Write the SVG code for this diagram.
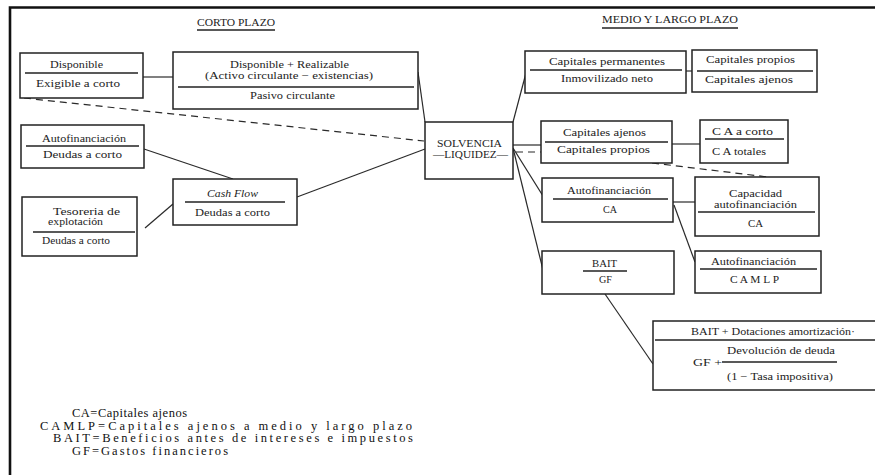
<svg xmlns="http://www.w3.org/2000/svg" width="875" height="475" viewBox="0 0 875 475">
  <style>
    .frame { stroke: #111; stroke-width: 2.6; fill: none; }
    .box { fill: #fff; stroke: #222; stroke-width: 1.5; }
    .div { stroke: #222; stroke-width: 1.3; fill: none; }
    .ln { stroke: #2a2a2a; stroke-width: 1.2; fill: none; }
    .dash { stroke: #2a2a2a; stroke-width: 1.2; fill: none; stroke-dasharray: 7 5; }
    .t { font-family: "Liberation Serif", "Times New Roman", serif; font-size: 10.5px; fill: #1c1c1c; text-anchor: middle; }
    .s { text-anchor: start; }
    .i { font-style: italic; }
    .sm { font-size: 9.5px; }
    .h { font-size: 11px; }
    .lg { font-family: "Liberation Serif", "Times New Roman", serif; font-size: 12.5px; fill: #111; }
  </style>

  <rect width="875" height="475" fill="#fff"/>
  <!-- page frame -->
  <path class="frame" d="M10 475 V7.5 H875"/>

  <!-- section headings -->
  <g id="heading-corto">
    <text class="t h" x="236" y="26" textLength="78" lengthAdjust="spacingAndGlyphs">CORTO PLAZO</text>
    <line class="div" x1="197" y1="30" x2="275" y2="30"/>
  </g>
  <g id="heading-medio">
    <text class="t h" x="670" y="23" textLength="136" lengthAdjust="spacingAndGlyphs">MEDIO Y LARGO PLAZO</text>
    <line class="div" x1="602" y1="28" x2="738" y2="28"/>
  </g>

  <!-- connectors -->
  <g id="connectors">
    <line class="ln" x1="143" y1="77" x2="173" y2="77"/>
    <line class="dash" x1="24" y1="98" x2="424" y2="141"/>
    <line class="ln" x1="144" y1="149" x2="233" y2="179"/>
    <line class="ln" x1="145" y1="228" x2="173" y2="204"/>
    <line class="ln" x1="297" y1="197" x2="425" y2="149"/>
    <line class="ln" x1="418" y1="72" x2="425" y2="122"/>
    <line class="ln" x1="513" y1="122" x2="526" y2="73"/>
    <line class="ln" x1="686" y1="71" x2="692" y2="71"/>
    <line class="ln" x1="513" y1="145" x2="541" y2="145"/>
    <line class="dash" x1="516" y1="152" x2="541" y2="152"/>
    <line class="ln" x1="672" y1="144" x2="700" y2="144"/>
    <line class="dash" x1="652" y1="163" x2="768" y2="177"/>
    <line class="ln" x1="513" y1="148" x2="543" y2="196"/>
    <line class="ln" x1="513" y1="148" x2="544" y2="274"/>
    <line class="ln" x1="673" y1="202" x2="695" y2="202"/>
    <line class="ln" x1="674" y1="205" x2="695" y2="262"/>
    <line class="ln" x1="605" y1="294" x2="653" y2="364"/>
  </g>

  <!-- short-term ratios -->
  <g id="n-disponible">
    <rect class="box" x="20" y="53" width="123" height="45"/>
    <text class="t" x="76.5" y="68" textLength="53" lengthAdjust="spacingAndGlyphs">Disponible</text>
    <line class="div" x1="25" y1="73" x2="138" y2="73"/>
    <text class="t" x="78" y="87" textLength="84" lengthAdjust="spacingAndGlyphs">Exigible a corto</text>
  </g>
  <g id="n-acid-test">
    <rect class="box" x="173" y="52" width="245" height="57"/>
    <text class="t" x="289.5" y="68" textLength="119" lengthAdjust="spacingAndGlyphs">Disponible + Realizable</text>
    <text class="t" x="289" y="79" textLength="168" lengthAdjust="spacingAndGlyphs">(Activo circulante − existencias)</text>
    <line class="div" x1="178" y1="87" x2="414" y2="87"/>
    <text class="t" x="292.5" y="99" textLength="85" lengthAdjust="spacingAndGlyphs">Pasivo circulante</text>
  </g>
  <g id="n-autofin-corto">
    <rect class="box" x="21" y="125" width="123" height="43"/>
    <text class="t" x="84" y="142" textLength="84" lengthAdjust="spacingAndGlyphs">Autofinanciación</text>
    <line class="div" x1="26" y1="146" x2="139" y2="146"/>
    <text class="t" x="82.5" y="158" textLength="79" lengthAdjust="spacingAndGlyphs">Deudas a corto</text>
  </g>
  <g id="n-tesoreria">
    <rect class="box" x="22" y="197" width="115" height="59"/>
    <text class="t sm" x="86.5" y="215" textLength="67" lengthAdjust="spacingAndGlyphs">Tesoreria de</text>
    <text class="t sm s" x="48" y="225" textLength="55" lengthAdjust="spacingAndGlyphs">explotación</text>
    <line class="div" x1="33" y1="232" x2="135" y2="232"/>
    <text class="t" x="76" y="244" textLength="68" lengthAdjust="spacingAndGlyphs">Deudas a corto</text>
  </g>
  <g id="n-cash-flow">
    <rect class="box" x="173" y="179" width="124" height="46"/>
    <text class="t i" x="232.5" y="197" textLength="51" lengthAdjust="spacingAndGlyphs">Cash Flow</text>
    <line class="div" x1="185" y1="202" x2="285" y2="202"/>
    <text class="t" x="232.5" y="216" textLength="75" lengthAdjust="spacingAndGlyphs">Deudas a corto</text>
  </g>

  <!-- centre -->
  <g id="n-solvencia">
    <rect class="box" x="425" y="122" width="88" height="57"/>
    <text class="t h" x="469.5" y="147" textLength="65" lengthAdjust="spacingAndGlyphs">SOLVENCIA</text>
    <text class="t h" x="470.5" y="158" textLength="75" lengthAdjust="spacingAndGlyphs">—LIQUIDEZ—</text>
  </g>

  <!-- medium and long-term ratios -->
  <g id="n-cap-permanentes">
    <rect class="box" x="525" y="51" width="161" height="42"/>
    <text class="t" x="607" y="65" textLength="116" lengthAdjust="spacingAndGlyphs">Capitales permanentes</text>
    <line class="div" x1="530" y1="70" x2="682" y2="70"/>
    <text class="t" x="607" y="82" textLength="92" lengthAdjust="spacingAndGlyphs">Inmovilizado neto</text>
  </g>
  <g id="n-cap-propios">
    <rect class="box" x="692" y="50" width="125" height="42"/>
    <text class="t" x="750.5" y="63" textLength="89" lengthAdjust="spacingAndGlyphs">Capitales propios</text>
    <line class="div" x1="697" y1="71" x2="813" y2="71"/>
    <text class="t" x="749" y="83" textLength="88" lengthAdjust="spacingAndGlyphs">Capitales ajenos</text>
  </g>
  <g id="n-endeudamiento">
    <rect class="box" x="541" y="121" width="131" height="42"/>
    <text class="t" x="604.5" y="136" textLength="83" lengthAdjust="spacingAndGlyphs">Capitales ajenos</text>
    <line class="div" x1="545" y1="142" x2="668" y2="142"/>
    <text class="t" x="603.5" y="153" textLength="93" lengthAdjust="spacingAndGlyphs">Capitales propios</text>
  </g>
  <g id="n-ca-corto">
    <rect class="box" x="700" y="120" width="88" height="43"/>
    <text class="t" x="742.5" y="135" textLength="61" lengthAdjust="spacingAndGlyphs">C A a corto</text>
    <line class="div" x1="705" y1="139" x2="784" y2="139"/>
    <text class="t" x="739" y="155" textLength="54" lengthAdjust="spacingAndGlyphs">C A totales</text>
  </g>
  <g id="n-autofin-ca">
    <rect class="box" x="542" y="178" width="131" height="44"/>
    <text class="t" x="609" y="194" textLength="84" lengthAdjust="spacingAndGlyphs">Autofinanciación</text>
    <line class="div" x1="553" y1="199" x2="668" y2="199"/>
    <text class="t" x="610" y="213" textLength="14" lengthAdjust="spacingAndGlyphs">CA</text>
  </g>
  <g id="n-capacidad">
    <rect class="box" x="695" y="177" width="124" height="59"/>
    <text class="t" x="755.5" y="197" textLength="53" lengthAdjust="spacingAndGlyphs">Capacidad</text>
    <text class="t" x="755.5" y="208" textLength="83" lengthAdjust="spacingAndGlyphs">autofinanciación</text>
    <line class="div" x1="698" y1="212" x2="815" y2="212"/>
    <text class="t" x="755.5" y="227" textLength="15" lengthAdjust="spacingAndGlyphs">CA</text>
  </g>
  <g id="n-autofin-camlp">
    <rect class="box" x="695" y="251" width="126" height="42"/>
    <text class="t" x="753.5" y="265" textLength="85" lengthAdjust="spacingAndGlyphs">Autofinanciación</text>
    <line class="div" x1="700" y1="269" x2="817" y2="269"/>
    <text class="t" x="754.5" y="283" textLength="49" lengthAdjust="spacingAndGlyphs">C A M L P</text>
  </g>
  <g id="n-bait-gf">
    <rect class="box" x="542" y="251" width="132" height="43"/>
    <text class="t" x="604.5" y="267" textLength="25" lengthAdjust="spacingAndGlyphs">BAIT</text>
    <line class="div" x1="583" y1="271" x2="627" y2="271"/>
    <text class="t" x="605.5" y="283" textLength="13" lengthAdjust="spacingAndGlyphs">GF</text>
  </g>
  <g id="n-cobertura">
    <rect class="box" x="653" y="321" width="230" height="69"/>
    <text class="t" x="773" y="335" textLength="164" lengthAdjust="spacingAndGlyphs">BAIT + Dotaciones amortización·</text>
    <line class="div" x1="655" y1="340" x2="880" y2="340"/>
    <text class="t" x="781" y="354" textLength="108" lengthAdjust="spacingAndGlyphs">Devolución de deuda</text>
    <text class="t s" x="693" y="366" textLength="29" lengthAdjust="spacingAndGlyphs">GF +</text>
    <line class="div" x1="722" y1="362" x2="837" y2="362"/>
    <text class="t" x="780" y="380" textLength="106" lengthAdjust="spacingAndGlyphs">(1 − Tasa impositiva)</text>
  </g>

  <!-- abbreviations -->
  <g id="legend">
    <text class="lg" x="72" y="417" textLength="115" lengthAdjust="spacing">CA=Capitales ajenos</text>
    <text class="lg" x="40" y="429.5" textLength="372" lengthAdjust="spacing">CAMLP=Capitales ajenos a medio y largo plazo</text>
    <text class="lg" x="53" y="442" textLength="360" lengthAdjust="spacing">BAIT=Beneficios antes de intereses e impuestos</text>
    <text class="lg" x="72" y="455" textLength="156" lengthAdjust="spacing">GF=Gastos financieros</text>
  </g>
</svg>
